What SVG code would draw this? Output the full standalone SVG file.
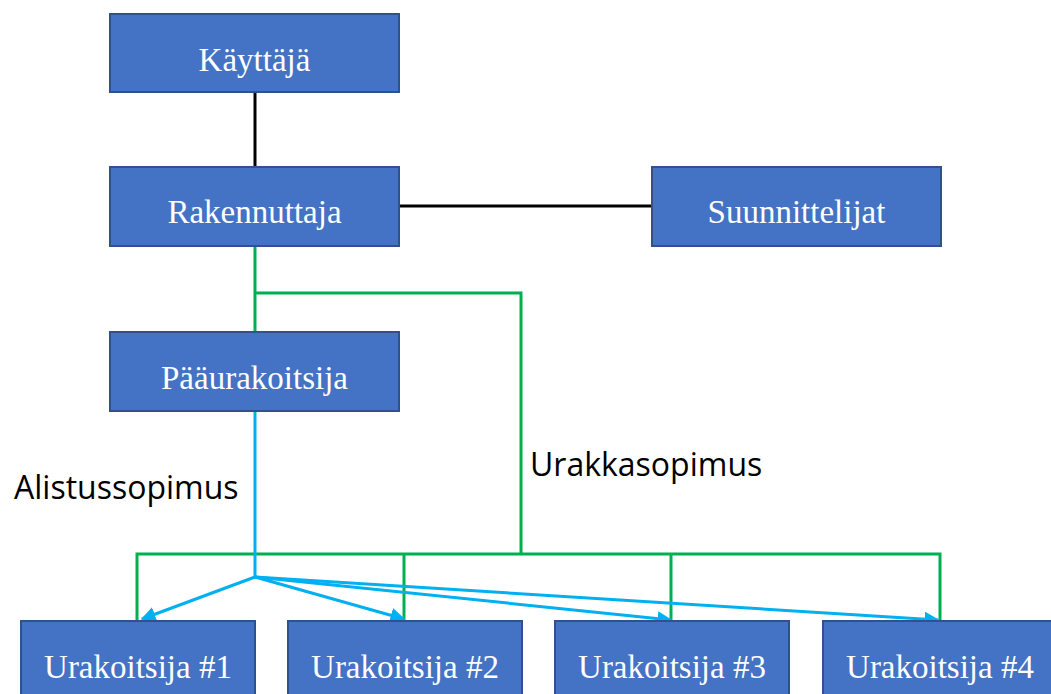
<svg xmlns="http://www.w3.org/2000/svg" width="1051" height="694" viewBox="0 0 1051 694">
<style>
.box{fill:#4472C4;stroke:#2F528F;stroke-width:2}
.bt{font-family:"Liberation Serif","Times New Roman",serif;font-size:33px;fill:#fff;text-anchor:middle}
.lbl{font-family:"Open Sans","Liberation Sans",sans-serif;font-size:32px;fill:#000}
.blk{stroke:#000;stroke-width:3;fill:none}
.grn{stroke:#00B050;stroke-width:3;fill:none}
.blu{stroke:#00B0F0;stroke-width:3;fill:none}
</style>
<defs>
<marker id="ah" viewBox="0 0 10 10" refX="9" refY="5" markerWidth="5" markerHeight="5" orient="auto" markerUnits="strokeWidth">
<path d="M0,0 L10,5 L0,10 z" fill="#00B0F0"/>
</marker>
</defs>
<rect width="1051" height="694" fill="#fff"/>
<g id="connectors">
<line class="blk" x1="255" y1="92" x2="255" y2="167"/>
<line class="blk" x1="399" y1="206" x2="651" y2="206"/>
<polyline class="grn" points="255,246 255,332"/>
<polyline class="grn" points="255,293 521,293 521,554"/>
<polyline class="grn" points="137,621 137,554 940,554 940,621"/>
<line class="grn" x1="404" y1="554" x2="404" y2="621"/>
<line class="grn" x1="671" y1="554" x2="671" y2="621"/>
<polyline class="blu" points="255,411 255,577"/>
<line class="blu" x1="255" y1="577" x2="142" y2="619" marker-end="url(#ah)"/>
<line class="blu" x1="255" y1="577" x2="404" y2="619" marker-end="url(#ah)"/>
<line class="blu" x1="255" y1="577" x2="671" y2="620" marker-end="url(#ah)"/>
<line class="blu" x1="255" y1="577" x2="938" y2="620" marker-end="url(#ah)"/>
</g>
<g id="kayttaja"><rect class="box" x="110" y="14" width="289" height="78"/><text class="bt" x="254.5" y="71">Käyttäjä</text></g>
<g id="rakennuttaja"><rect class="box" x="110" y="167" width="289" height="79"/><text class="bt" x="254.5" y="223">Rakennuttaja</text></g>
<g id="suunnittelijat"><rect class="box" x="652" y="167" width="289" height="79"/><text class="bt" x="796.5" y="223">Suunnittelijat</text></g>
<g id="paaurakoitsija"><rect class="box" x="110" y="332" width="289" height="79"/><text class="bt" x="254.5" y="389">Pääurakoitsija</text></g>
<g id="urakoitsija1"><rect class="box" x="21" y="621" width="234" height="80"/><text class="bt" x="138" y="678">Urakoitsija #1</text></g>
<g id="urakoitsija2"><rect class="box" x="288" y="621" width="234" height="80"/><text class="bt" x="405" y="678">Urakoitsija #2</text></g>
<g id="urakoitsija3"><rect class="box" x="555" y="621" width="234" height="80"/><text class="bt" x="672" y="678">Urakoitsija #3</text></g>
<g id="urakoitsija4"><rect class="box" x="823" y="621" width="234" height="80"/><text class="bt" x="940" y="678">Urakoitsija #4</text></g>
<text class="lbl" x="14" y="499">Alistussopimus</text>
<text class="lbl" x="530" y="476">Urakkasopimus</text>
</svg>
